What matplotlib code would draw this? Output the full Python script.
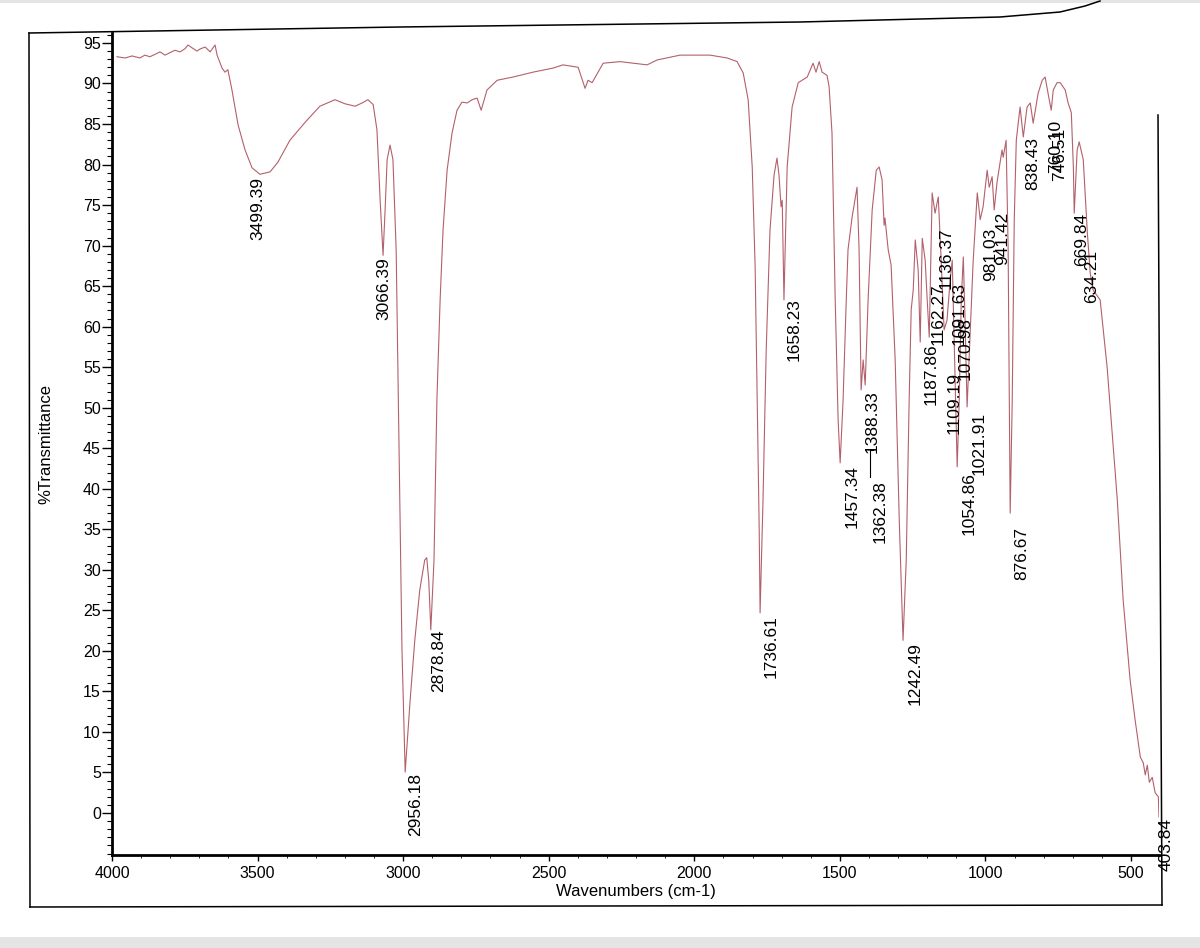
import matplotlib
matplotlib.use("Agg")

import matplotlib.pyplot as plt
from matplotlib.lines import Line2D
from matplotlib.patches import Rectangle
from matplotlib.ticker import MultipleLocator

plt.rcParams["font.family"] = ["Liberation Sans", "DejaVu Sans"]

# spectrum (cm-1, %T)
wavenumber = [
    3983, 3955, 3931, 3904, 3887, 3870, 3852, 3835, 3818, 3801, 3784, 3766,
    3749, 3739, 3725, 3708, 3698, 3680, 3663, 3646, 3639, 3622, 3612, 3602,
    3588, 3567, 3543, 3519, 3492, 3457, 3430, 3389, 3337, 3286, 3234, 3200,
    3165, 3141, 3121, 3103, 3090, 3079, 3069, 3062, 3055, 3045, 3035, 3024,
    3014, 3004, 2993, 2976, 2960, 2943, 2926, 2919, 2912, 2905, 2894, 2884,
    2873, 2863, 2849, 2832, 2815, 2798, 2780, 2763, 2746, 2732, 2712, 2677,
    2622, 2554, 2485, 2451, 2399, 2375, 2365, 2351, 2313, 2255, 2162, 2128,
    2049, 1946, 1887, 1853, 1832, 1815, 1801, 1791, 1784, 1777, 1774, 1764,
    1753, 1740, 1726, 1716, 1709, 1702, 1698, 1692, 1681, 1664, 1643, 1612,
    1592, 1582, 1571, 1561, 1544, 1537, 1527, 1516, 1506, 1499, 1489, 1478,
    1472, 1458, 1441, 1434, 1427, 1420, 1413, 1403, 1389, 1375, 1365, 1355,
    1348, 1345, 1334, 1324, 1310, 1296, 1283, 1272, 1262, 1255, 1248, 1241,
    1231, 1224, 1217, 1207, 1200, 1193, 1183, 1173, 1162, 1152, 1142, 1132,
    1121, 1114, 1104, 1097, 1090, 1083, 1076, 1070, 1063, 1052, 1042, 1028,
    1018, 1008, 994, 987, 977, 970, 960, 943, 939, 929, 922, 915, 908, 901,
    894, 881, 870, 857, 846, 836, 819, 805, 795, 785, 774, 767, 754, 743,
    726, 716, 705, 698, 695, 685, 678, 664, 650, 640, 630, 606, 582, 547,
    527, 503, 486, 468, 458, 451, 444, 437, 427, 417, 406, 403.84,
]
transmittance = [
    93.3, 93.15, 93.4, 93.15, 93.5, 93.3, 93.6, 93.9, 93.5, 93.8, 94.1, 93.9,
    94.3, 94.75, 94.4, 94.0, 94.25, 94.5, 93.9, 94.75, 93.5, 91.9, 91.4, 91.7,
    89.2, 84.9, 81.8, 79.6, 78.8, 79.1, 80.3, 83.0, 85.2, 87.2, 88.0, 87.5,
    87.2, 87.6, 88.0, 87.4, 84.3, 75.6, 68.8, 74.4, 80.6, 82.4, 80.6, 69.5,
    44.8, 20.1, 5.05, 13.9, 21.3, 27.5, 31.2, 31.5, 28.7, 22.6, 31.2, 51.0,
    63.3, 71.9, 79.3, 83.9, 86.7, 87.7, 87.6, 88.0, 88.2, 86.7, 89.2, 90.4,
    90.8, 91.4, 91.9, 92.3, 92.0, 89.4, 90.4, 90.1, 92.5, 92.7, 92.3, 92.9,
    93.5, 93.5, 93.15, 92.7, 91.3, 88.0, 79.7, 67.4, 50.9, 34.9, 24.7, 38.6,
    57.1, 71.9, 78.7, 80.8, 78.7, 74.8, 75.6, 63.3, 79.7, 87.1, 90.1, 90.8,
    92.5, 91.4, 92.7, 91.4, 91.0, 89.6, 83.9, 63.3, 48.5, 43.2, 50.9, 63.3,
    69.5, 73.5, 77.2, 69.5, 52.2, 55.9, 52.8, 63.3, 74.4, 79.3, 79.7, 78.1,
    72.5, 73.4, 69.5, 67.6, 55.9, 36.1, 21.3, 31.2, 50.9, 62.1, 64.5, 70.7,
    67.0, 58.1, 70.9, 68.2, 63.3, 58.7, 76.5, 74.0, 76.0, 68.2, 59.6, 60.8,
    65.8, 68.2, 53.4, 42.7, 50.9, 63.3, 68.6, 60.8, 50.1, 59.6, 68.2, 76.5,
    73.2, 74.8, 79.3, 77.2, 78.5, 74.4, 77.85, 81.8, 80.9, 83.0, 69.5, 37.0,
    50.9, 73.2, 83.0, 87.1, 83.4, 87.1, 87.6, 85.1, 88.8, 90.4, 90.8, 88.8,
    86.7, 89.2, 90.1, 90.1, 89.2, 87.6, 86.4, 79.7, 74.0, 81.8, 82.8, 80.6,
    71.6, 66.6, 64.5, 63.3, 55.0, 38.6, 26.3, 16.4, 11.5, 6.9, 6.2, 4.7,
    5.9, 3.8, 4.4, 2.5, 2.0, -0.5,
]

# peak annotations: text, position and the %T where the text starts
peak_text = [
    "3499.39", "3066.39", "2956.18", "2878.84", "1736.61", "1658.23",
    "1457.34", "1388.33", "1362.38", "1242.49", "1187.86", "1162.27",
    "1136.37", "1109.19", "1091.63", "1070.98", "1054.86", "1021.91",
    "981.03", "941.42", "876.67", "838.43", "760.10", "746.51",
    "669.84", "634.21",
]
peak_wn = [
    3499.39, 3066.39, 2956.18, 2878.84, 1736.61, 1658.23,
    1457.34, 1388.33, 1362.38, 1242.49, 1187.86, 1162.27,
    1136.37, 1109.19, 1091.63, 1070.98, 1054.86, 1021.91,
    981.03, 941.42, 876.67, 838.43, 760.10, 746.51,
    669.84, 634.21,
]
peak_label_top = [
    78.5, 68.6, 4.9, 22.6, 24.4, 63.5,
    42.9, 52.2, 41.1, 21.1, 58.0, 65.4,
    72.2, 54.4, 65.5, 61.2, 42.1, 49.5,
    72.2, 74.2, 35.3, 83.4, 85.5, 84.5,
    74.0, 69.5,
]

x_ticks = [4000, 3500, 3000, 2500, 2000, 1500, 1000, 500]
y_ticks = list(range(0, 100, 5))

W, H = 1200, 948
fig = plt.figure(figsize=(W / 100, H / 100), dpi=100)
fig.patch.set_facecolor("white")

ax = fig.add_axes([112 / W, 1 - 855 / H, (1159 - 112) / W, (855 - 33) / H])
ax.plot(wavenumber, transmittance, color="#b3606b", lw=0.8)

ax.set_xlim(4000, 403.84)
ax.set_ylim(-5.18, 96.23)

for side in ("top", "right"):
    ax.spines[side].set_visible(False)
for side in ("left", "bottom"):
    ax.spines[side].set_linewidth(2.0)

ax.set_xticks(x_ticks)
ax.set_yticks(y_ticks)
ax.xaxis.set_minor_locator(MultipleLocator(100))
ax.yaxis.set_minor_locator(MultipleLocator(1))
ax.tick_params(axis="both", which="major", direction="out", labelsize=11.5,
               width=1.0, color="black")
ax.tick_params(axis="y", which="major", length=7, pad=1)
ax.tick_params(axis="y", which="minor", length=3.5, width=0.8)
ax.tick_params(axis="x", which="major", length=4, pad=4)
ax.tick_params(axis="x", which="minor", length=2, width=0.6)

ax.set_xlabel("Wavenumbers (cm-1)", fontsize=12, labelpad=2)
ax.set_ylabel("%Transmittance", fontsize=12, labelpad=21)

for txt, wn, top in zip(peak_text, peak_wn, peak_label_top):
    ax.text(wn, top, txt, rotation=90, ha="center", va="top", fontsize=12.5)

# end point label sits just outside the plot
ax.text(403.84, -0.6, "403.84", rotation=90, ha="left", va="top",
        fontsize=12.5, clip_on=False)
# little leader for the crowded 1362 label
ax.plot([1395, 1395], [44.8, 41.4], color="black", lw=0.8)
ax.plot([1395, 1385], [44.8, 44.8], color="black", lw=0.8)


def px(x, y):
    return x / W, 1 - y / H


# scanned page frame
frame_pts = [(29, 33), (400, 27), (800, 22), (1000, 17), (1060, 12),
             (1085, 6), (1100, 1)]
xs, ys = zip(*[px(x, y) for x, y in frame_pts])
fig.add_artist(Line2D(xs, ys, transform=fig.transFigure, color="black", lw=1.1))
for (x0, y0), (x1, y1) in [((29, 33), (30, 907)), ((30, 907), (1162, 905)),
                           ((1162, 905), (1158, 115))]:
    a, b = px(x0, y0)
    c, d = px(x1, y1)
    fig.add_artist(Line2D([a, c], [b, d], transform=fig.transFigure,
                          color="black", lw=1.1))

# grey strips of the screenshot
fig.add_artist(Rectangle((0, 0), 1, 11 / H, transform=fig.transFigure,
                         facecolor="#e4e4e4", edgecolor="none"))
fig.add_artist(Rectangle((0, 1 - 3 / H), 1, 3 / H, transform=fig.transFigure,
                         facecolor="#e4e4e4", edgecolor="none"))

fig.savefig("out.png", dpi=100)
